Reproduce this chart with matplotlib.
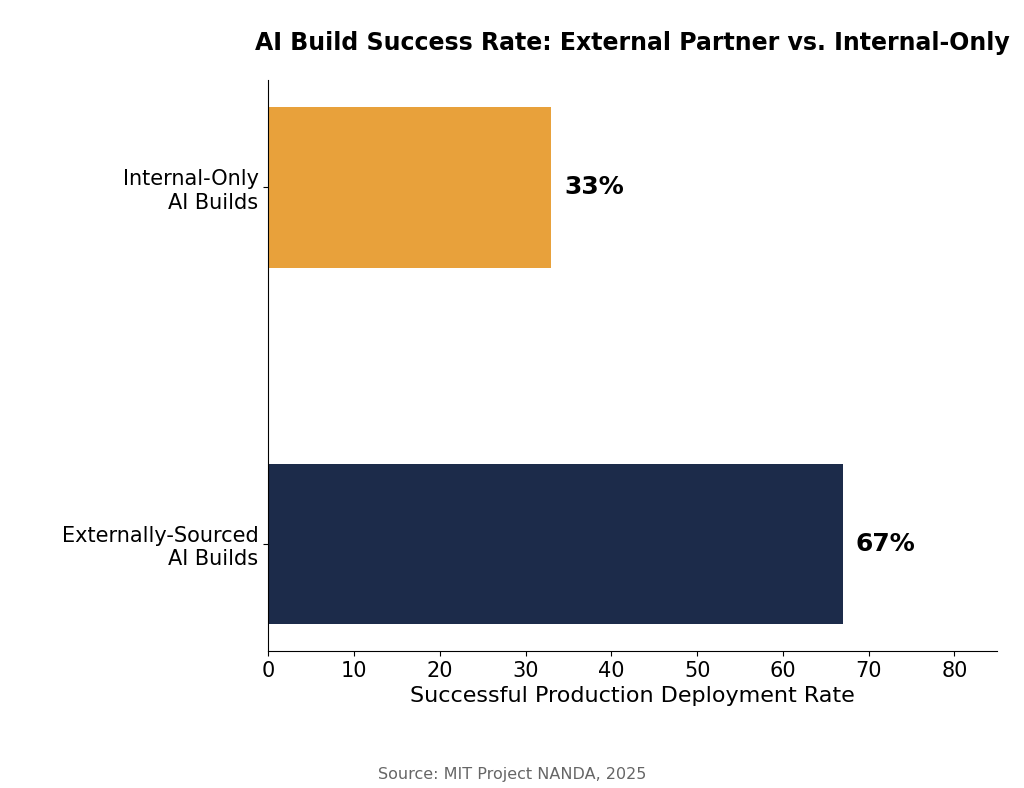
import matplotlib.pyplot as plt

# data
labels = ['Externally-Sourced\nAI Builds', 'Internal-Only\nAI Builds']
rates = [67, 33]
colors = ['#1C2B4A', '#E8A13B']

fig = plt.figure(figsize=[10.24, 7.88], dpi=100)
ax = fig.add_axes([0.262, 0.174, 0.712, 0.724])
ax.barh([0, 1], rates, height=0.45, color=colors)
for n, r in enumerate(rates):
    ax.text(r + 1.5, n, str(r) + '%', va='center', ha='left', fontsize=18, fontweight='bold')
ax.set_yticks([0, 1])
ax.set_yticklabels(labels, fontsize=15)
ax.tick_params(axis='x', labelsize=15)
ax.set_xlim(0, 85)
ax.set_ylim(-0.3, 1.3)
ax.set_xticks(range(0, 90, 10))
ax.set_xlabel('Successful Production Deployment Rate', fontsize=16)
ax.spines['top'].set_visible(False)
ax.spines['right'].set_visible(False)
ax.set_title('AI Build Success Rate: External Partner vs. Internal-Only', fontsize=17, fontweight='bold', pad=22)
fig.text(0.5, 0.013 + 0.0, 'Source: MIT Project NANDA, 2025', ha='center', va='bottom', fontsize=11.5, color='#666666',
         transform=fig.transFigure)
fig.texts[0].set_position((0.5, 0.005 + 0.0))
fig.texts[0].set_y(0.005 + 0.0)
fig.texts[0].set_va('bottom')
fig.texts[0].set_y(0.008)
fig.savefig('out.png', dpi=100)
